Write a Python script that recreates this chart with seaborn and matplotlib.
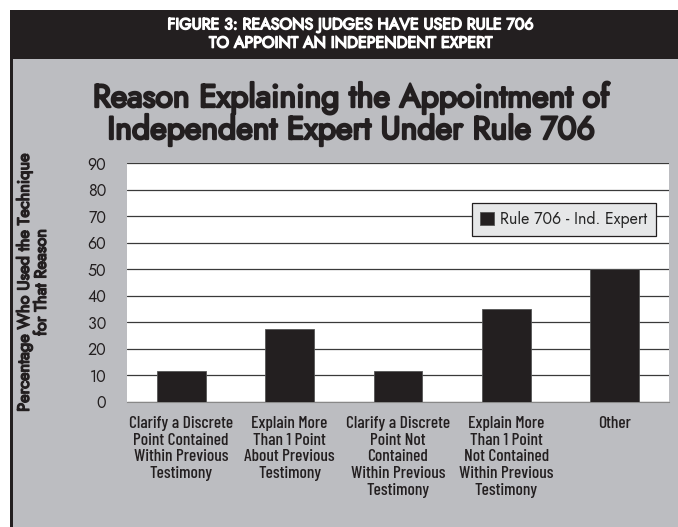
import matplotlib
matplotlib.use("Agg")
import matplotlib.pyplot as plt
import matplotlib.patheffects as pe
import seaborn as sns
from matplotlib.patches import Rectangle

# data
categories = [
    "Clarify a Discrete\nPoint Contained\nWithin Previous\nTestimony",
    "Explain More\nThan 1 Point\nAbout Previous\nTestimony",
    "Clarify a Discrete\nPoint Not\nContained\nWithin Previous\nTestimony",
    "Explain More\nThan 1 Point\nNot Contained\nWithin Previous\nTestimony",
    "Other",
]
values = [11.8, 27.4, 11.8, 35.0, 50.0]
series_name = "Rule 706 - Ind. Expert"
yticks = [0, 10, 20, 30, 40, 50, 60, 70, 80, 90]

DARK = "#231f20"
GRAY = "#bcbdc1"

sns.set_style("white")
plt.rcParams["font.family"] = ["Jost", "DejaVu Sans"]

W, H = 678, 527
fig = plt.figure(figsize=(W / 100, H / 100), dpi=100, facecolor="white")

# background panels
fig.patches.append(Rectangle((10 / W, 0), 1 - 10 / W, (H - 59) / H,
                             transform=fig.transFigure, facecolor=GRAY, edgecolor="none", zorder=-2))
fig.patches.append(Rectangle((10 / W, (H - 59) / H), 1 - 10 / W, 49 / H,
                             transform=fig.transFigure, facecolor=DARK, edgecolor="none", zorder=-2))
fig.patches.append(Rectangle((10 / W, 0), 2.5 / W, (H - 10) / H,
                             transform=fig.transFigure, facecolor=DARK, edgecolor="none", zorder=-2))

# the Jost face here has one weight only, so a stroke makes it heavy
def heavy(color, w):
    return [pe.withStroke(linewidth=w, foreground=color)]

fig.text(350 / W, 1 - 34 / H, "FIGURE 3: REASONS JUDGES HAVE USED RULE 706\nTO APPOINT AN INDEPENDENT EXPERT",
         ha="center", va="center", color="white", fontsize=11.5, linespacing=1.1,
         path_effects=heavy("white", 1.0))
fig.text(351 / W, 1 - 114 / H, "Reason Explaining the Appointment of\nIndependent Expert Under Rule 706",
         ha="center", va="center", color=DARK, fontsize=23, linespacing=1.0,
         path_effects=heavy(DARK, 1.7))

ax = fig.add_axes([127 / W, 1 - 402 / H, (669 - 127) / W, (402 - 163) / H])
ax.set_zorder(2)
ax.set_facecolor("white")

sns.barplot(x=categories, y=values, color=DARK, width=0.45, saturation=1,
            edgecolor="#555555", linewidth=0.6, label=series_name, ax=ax, zorder=3)

ax.set_ylim(0, 90)
ax.set_yticks(yticks)
ax.set_xlim(-0.5, len(categories) - 0.5)
ax.yaxis.grid(True, color="#3a3a3a", linewidth=0.9, zorder=0)
ax.set_axisbelow(True)
for s in ["top", "right", "left"]:
    ax.spines[s].set_visible(False)
ax.spines["bottom"].set_color("#888888")
ax.tick_params(axis="y", length=3, color="#3a3a3a", labelsize=11.5, labelcolor=DARK, pad=12)
ax.tick_params(axis="x", length=0, pad=10)
for lab in ax.get_xticklabels():
    lab.set_fontfamily(["Barlow Condensed", "DejaVu Sans"])
    lab.set_fontweight("medium")
    lab.set_fontsize(12.5)
    lab.set_color(DARK)
    lab.set_linespacing(1.15)
    lab.set_verticalalignment("top")

ax.set_ylabel("Percentage Who Used the Technique\nfor That Reason", fontsize=11.8,
              color=DARK, labelpad=27, linespacing=1.0, path_effects=heavy(DARK, 1.0))

leg = ax.legend(loc="upper right", bbox_to_anchor=(0.99, 0.865), frameon=True,
                fancybox=False, fontsize=11.5, handlelength=0.9, handleheight=0.9,
                handletextpad=0.4, borderpad=0.5)
leg.get_frame().set_facecolor("#e6e7e8")
leg.get_frame().set_edgecolor(DARK)
leg.get_frame().set_linewidth(0.9)
leg.get_frame().set_alpha(1)

fig.savefig("out.png", dpi=100, facecolor=fig.get_facecolor())
